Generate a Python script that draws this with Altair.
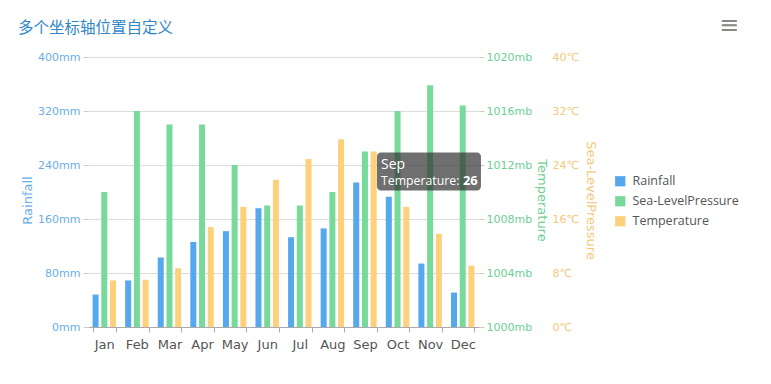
import altair as alt
import pandas as pd

months = ["Jan", "Feb", "Mar", "Apr", "May", "Jun", "Jul", "Aug", "Sep", "Oct", "Nov", "Dec"]
series_names = ["Rainfall", "Sea-LevelPressure", "Temperature"]
series_colors = ["#55a8ee", "#78da9a", "#fdd07c"]
rainfall = [48, 69, 103, 126, 142, 176, 133, 146, 214, 193, 94, 51]
pressure = [1010, 1016, 1015, 1015, 1012, 1009, 1009, 1010, 1013, 1016, 1017.9, 1016.4]
temperature = [6.9, 7.0, 8.7, 14.8, 17.8, 21.8, 24.9, 27.8, 26, 17.8, 13.8, 9.1]

rain_ticks = [0, 80, 160, 240, 320, 400]
pres_ticks = [1000, 1004, 1008, 1012, 1016, 1020]
temp_ticks = [0, 8, 16, 24, 32, 40]

tip_month = ["Sep"]
tip_series = ["Temperature"]
tip_value = [26]

rows = []
for name, vals in zip(series_names, [rainfall, pressure, temperature]):
    for m, v in zip(months, vals):
        rows.append({"month": m, "series": name, "value": v})
df = pd.DataFrame(rows)
tip_df = pd.DataFrame({"month": tip_month, "series": tip_series, "value": tip_value})

W, H = 391, 270

x_enc = alt.X(
    "month:N",
    sort=months,
    scale=alt.Scale(domain=months, paddingInner=0.28, paddingOuter=0.14),
    axis=alt.Axis(
        title=None, labelAngle=0, labelColor="#555555", labelFontSize=13,
        labelFont="DejaVu Sans", labelPadding=6, domainColor="#aaaaaa",
        tickColor="#aaaaaa", tickSize=5, tickBand="extent", grid=False,
    ),
)
xoff = alt.XOffset("series:N", scale=alt.Scale(domain=series_names, paddingInner=0.31, paddingOuter=0))
color = alt.Color(
    "series:N",
    scale=alt.Scale(domain=series_names, range=series_colors),
    legend=alt.Legend(
        title=None, orient="none", legendX=526, legendY=118, symbolType="square",
        symbolSize=105, symbolStrokeWidth=0, labelFontSize=12.5, labelColor="#555555",
        labelFont="Open Sans", rowPadding=7, labelOffset=6,
    ),
)

base = alt.Chart(df)

rain = base.transform_filter(alt.datum.series == "Rainfall").mark_bar().encode(
    x=x_enc, xOffset=xoff, color=color,
    y=alt.Y("value:Q", scale=alt.Scale(domain=[0, 400]),
            axis=alt.Axis(values=rain_ticks, labelExpr="datum.value + 'mm'", title="Rainfall",
                          titleColor="#6aaee6", labelColor="#6aaee6", labelFont="DejaVu Sans",
                          labelFontSize=11, titleFont="DejaVu Sans", titleFontSize=13,
                          titleFontWeight="normal", domain=False, tickColor="#cccccc",
                          tickSize=5, labelPadding=3, gridColor="#dddddd", grid=True,
                          titleX=-61, titleY=143, titleAlign="center", titleBaseline="middle",
                          titleAngle=270)),
)

pres = base.transform_filter(alt.datum.series == "Sea-LevelPressure").mark_bar().encode(
    x=x_enc, xOffset=xoff, color=color,
    y=alt.Y("value:Q", scale=alt.Scale(domain=[1000, 1020], zero=False),
            axis=alt.Axis(orient="right", values=pres_ticks, labelExpr="datum.value + 'mb'",
                          title="Temperature", titleColor="#6ccf93", labelColor="#6ccf93",
                          labelFont="DejaVu Sans", labelFontSize=11, titleFont="DejaVu Sans",
                          titleFontSize=13, titleFontWeight="normal", domain=False,
                          tickColor="#cccccc", tickSize=5, labelPadding=2, grid=False,
                          titleX=62, titleY=143, titleAlign="center", titleBaseline="middle",
                          titleAngle=90)),
    y2=alt.datum(1000),
)

temp = base.transform_filter(alt.datum.series == "Temperature").mark_bar().encode(
    x=x_enc, xOffset=xoff, color=color,
    y=alt.Y("value:Q", scale=alt.Scale(domain=[0, 40]),
            axis=alt.Axis(orient="right", offset=70, values=temp_ticks, labelExpr="datum.value + '℃'",
                          title="Sea-LevelPressure", titleColor="#f3c97c", labelColor="#f3c97c",
                          labelFont="DejaVu Sans", labelFontSize=11, titleFont="DejaVu Sans",
                          titleFontSize=13, titleFontWeight="normal", domain=False,
                          ticks=False, labelPadding=3, grid=False,
                          titleX=41, titleY=143, titleAlign="center", titleBaseline="middle",
                          titleAngle=90)),
)

tip_y = alt.Y("value:Q", scale=alt.Scale(domain=[0, 40]), axis=None)
tip_base = alt.Chart(tip_df).transform_calculate(label="datum.series + ':'")
tip_box = tip_base.mark_rect(color="#323232", opacity=0.7, width=104, height=38,
                             xOffset=64, yOffset=20, cornerRadius=4).encode(x=x_enc, y=tip_y)
tip_t1 = tip_base.mark_text(align="left", baseline="middle", dx=16, dy=13.5, color="white",
                            fontSize=14, font="Open Sans").encode(x=x_enc, y=tip_y, text="month:N")
tip_t2 = tip_base.mark_text(align="left", baseline="middle", dx=16, dy=29, color="white",
                            fontSize=12.3, font="Open Sans").encode(
    x=x_enc, y=tip_y, text=alt.Text("label:N"))
tip_t3 = tip_base.mark_text(align="left", baseline="middle", dx=98, dy=29, color="white",
                            fontSize=12.8, font="Open Sans", fontWeight="bold").encode(
    x=x_enc, y=tip_y, text=alt.Text("value:Q"))

menu = alt.Chart(tip_df).mark_text(text="≡", fontSize=24, color="#888888", font="DejaVu Sans").encode(
    x=alt.value(641), y=alt.value(-31))

chart = alt.layer(rain, pres, temp, tip_box, tip_t1, tip_t2, tip_t3, menu).resolve_scale(
    y="independent"
).properties(
    width=W, height=H,
    autosize=alt.AutoSizeParams(type="none"),
    padding={"left": 80, "top": 49, "right": 283, "bottom": 47},
    title=alt.TitleParams("多个坐标轴位置自定义", anchor="start", frame="group", fontSize=15.5,
                          font="Noto Sans CJK SC", fontWeight="normal", color="#2f86c9",
                          dx=-70, offset=-22),
).configure_view(stroke=None)

chart.save("out.html", embed_options={"renderer": "svg", "actions": False})
